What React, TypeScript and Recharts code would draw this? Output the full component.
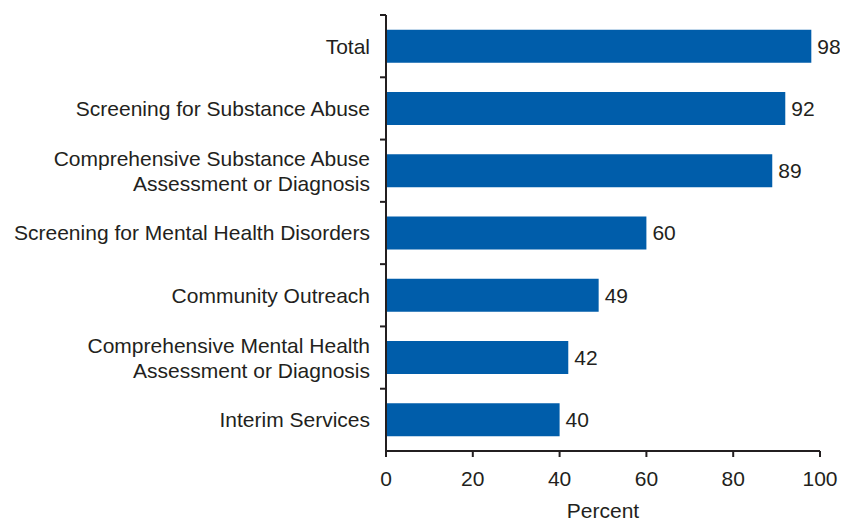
import React from 'react';
import { BarChart, Bar, XAxis, YAxis, LabelList } from 'recharts';

const categories = [
  'Total',
  'Screening for Substance Abuse',
  'Comprehensive Substance Abuse\nAssessment or Diagnosis',
  'Screening for Mental Health Disorders',
  'Community Outreach',
  'Comprehensive Mental Health\nAssessment or Diagnosis',
  'Interim Services',
];
const values = [98, 92, 89, 60, 49, 42, 40];
const xTicks = [0, 20, 40, 60, 80, 100];

const data = categories.map((c, i) => ({ name: c, value: values[i] }));

const TEXT = '#231f20';
const BAR = '#005daa';
const FONT = '"Liberation Sans", Arial, Helvetica, sans-serif';
const FS = 21;
const LH = 25;

const CatTick = (props: any) => {
  const { x, y, payload } = props;
  const lines = String(payload.value).split('\n');
  const off = payload.offset ?? 31;
  const start = -((lines.length - 1) * LH) / 2;
  return (
    <g>
      <line x1={x + 10} x2={x + 16} y1={y - off} y2={y - off} stroke={TEXT} strokeWidth={2} />
      <text x={x} y={y} textAnchor="end" fill={TEXT} fontSize={FS} fontFamily={FONT}>
        {lines.map((l: string, i: number) => (
          <tspan key={i} x={x} dy={i === 0 ? start + 0.355 * FS : LH}>
            {l}
          </tspan>
        ))}
      </text>
    </g>
  );
};

export default function App() {
  return (
    <BarChart
      width={840}
      height={517}
      data={data}
      layout="vertical"
      margin={{ top: 7, right: 28, bottom: 0, left: 0 }}
      barCategoryGap="23.5%"
    >
      <XAxis
        type="number"
        domain={[0, 100]}
        ticks={xTicks}
        height={74}
        tickSize={6}
        tickMargin={14}
        axisLine={{ stroke: TEXT, strokeWidth: 2 }}
        tickLine={{ stroke: TEXT, strokeWidth: 2 }}
        tick={{ fill: TEXT, fontSize: FS, fontFamily: FONT }}
        label={{ value: 'Percent', position: 'insideBottom', offset: 7, fill: TEXT, fontSize: FS, fontFamily: FONT }}
      />
      <YAxis
        type="category"
        dataKey="name"
        width={378}
        tickSize={6}
        tickMargin={10}
        tickLine={false}
        interval={0}
        axisLine={{ stroke: TEXT, strokeWidth: 2 }}
        tick={<CatTick />}
      />
      <Bar dataKey="value" fill={BAR} isAnimationActive={false}>
        <LabelList dataKey="value" position="right" offset={6} fill={TEXT} fontSize={FS} fontFamily={FONT} />
      </Bar>
    </BarChart>
  );
}
